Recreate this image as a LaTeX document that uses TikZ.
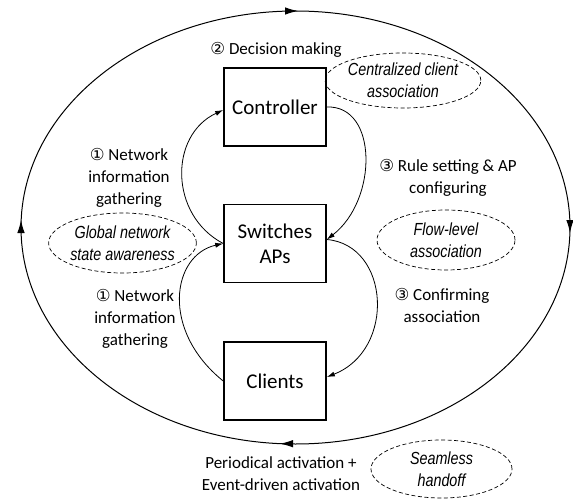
\documentclass[tikz,border=0pt]{standalone}
\usepackage{fontspec}
\setmainfont{Carlito}
\newfontfamily\symfont{DejaVu Sans}
\newfontfamily\narrowfont[FakeStretch=0.82]{Liberation Sans}
\usetikzlibrary{arrows.meta,shapes.geometric}
\newcommand{\cnum}[1]{{\symfont\fontsize{16.5}{16.5}\selectfont #1}}
\begin{document}
\begin{tikzpicture}[x=1pt,y=-1pt,
  boxnode/.style={draw,line width=1.6pt,minimum width=102pt,minimum height=78pt,inner sep=0pt,align=center,font=\fontsize{21}{25}\selectfont},
  lbl/.style={align=center,inner sep=0pt,font=\fontsize{17}{22}\selectfont},
  tag/.style={ellipse,draw,dash pattern=on 4pt off 2.5pt,line width=0.7pt,inner sep=0pt,align=center,font=\narrowfont\itshape\fontsize{17.5}{22}\selectfont},
  flow/.style={line width=0.8pt,-{Latex[length=8pt,width=5pt]}},
  bigtip/.style={line width=1pt,-{Latex[length=13pt,width=7.5pt]}}
]
\useasboundingbox (0,0) rectangle (573,500);
% outer cycle
\draw[line width=1pt] (295.5,227.5) ellipse [x radius=274.5pt, y radius=216.5pt];
\coordinate (ta) at (290,11);  \coordinate (tb) at (298,11);
\coordinate (ra) at (570,225); \coordinate (rb) at (570,233);
\coordinate (ba) at (288,443.7); \coordinate (bb) at (280,443.7);
\coordinate (la) at (21,228);  \coordinate (lb) at (21,220);
\draw[bigtip] (ta) -- (tb);
\draw[bigtip] (ra) -- (rb);
\draw[bigtip] (ba) -- (bb);
\draw[bigtip] (la) -- (lb);
% boxes
\node[boxnode] (ctrl) at (275,107) {Controller};
\node[boxnode] (sw) at (275,243.5) {Switches\\APs};
\node[boxnode] (cl) at (275,381) {Clients};
% connectors
\draw[flow] (sw.west) .. controls (169,215) and (169,135) .. ([yshift=-3pt]ctrl.west);
\draw[flow] (ctrl.east) .. controls (378,105) and (378,200) .. ([yshift=4pt]sw.east);
\draw[flow] (cl.west) .. controls (160,330) and (172,255) .. (sw.west);
\draw[flow] ([yshift=4pt]sw.east) .. controls (390,245) and (396,350) .. ([yshift=4pt]cl.east);
% labels
\node[lbl] (dec) at (276,50) {\cnum{②} Decision making};
\node[lbl] (ni1) at (129,177.5) {\cnum{①} Network\\information\\gathering};
\node[lbl] (rule) at (448,177.5) {\cnum{③} Rule setting \& AP\\configuring};
\node[lbl] (ni2) at (135,319) {\cnum{①} Network\\information\\gathering};
\node[lbl] (conf) at (442,305.5) {\cnum{③} Confirming\\association};
\node[lbl] (act) at (281,473.5) {Periodical activation +\\Event-driven activation};
% dashed tags
\node[tag,minimum width=142pt,minimum height=55pt] (cent) at (403,80.5) {Centralized client\\association};
\node[tag,minimum width=141pt,minimum height=60pt] (glob) at (122.5,243) {Global network\\state awareness};
\node[tag,minimum width=138pt,minimum height=60pt] (flowlvl) at (446,240) {Flow-level\\association};
\node[tag,minimum width=141pt,minimum height=58pt] (seam) at (441.5,469) {Seamless\\handoff};
\end{tikzpicture}
\end{document}
